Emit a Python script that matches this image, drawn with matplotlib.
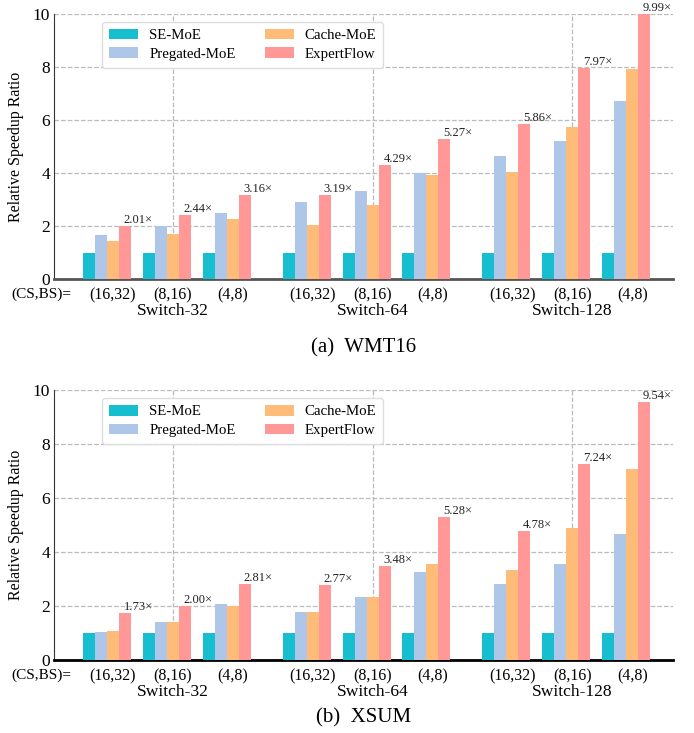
import matplotlib
matplotlib.use("Agg")
import matplotlib.pyplot as plt
import numpy as np

plt.rcParams['font.family'] = ['Liberation Serif', 'DejaVu Serif']

methods = ["SE-MoE", "Pregated-MoE", "Cache-MoE", "ExpertFlow"]
colors = ["#17becf", "#aec7e8", "#ffbb78", "#ff9896"]
models = ["Switch-32", "Switch-64", "Switch-128"]
configs = ["(16,32)", "(8,16)", "(4,8)"]

# WMT16 values, order: Switch-32 x3 configs, Switch-64 x3, Switch-128 x3
wmt_se = [1, 1, 1, 1, 1, 1, 1, 1, 1]
wmt_pregated = [1.67, 2.01, 2.50, 2.92, 3.33, 4.00, 4.66, 5.22, 6.70]
wmt_cache = [1.46, 1.71, 2.28, 2.05, 2.80, 3.94, 4.05, 5.72, 7.91]
wmt_ef = [2.01, 2.44, 3.16, 3.19, 4.29, 5.27, 5.86, 7.97, 9.99]

xsum_se = [1, 1, 1, 1, 1, 1, 1, 1, 1]
xsum_pregated = [1.04, 1.41, 2.07, 1.78, 2.33, 3.26, 2.81, 3.56, 4.67]
xsum_cache = [1.07, 1.41, 2.00, 1.78, 2.33, 3.56, 3.33, 4.89, 7.07]
xsum_ef = [1.73, 2.00, 2.81, 2.77, 3.48, 5.28, 4.78, 7.24, 9.54]

datasets = [
    ("(a)  WMT16", [wmt_se, wmt_pregated, wmt_cache, wmt_ef], "#555555", 348),
    ("(b)  XSUM", [xsum_se, xsum_pregated, xsum_cache, xsum_ef], "black", 718),
]

w = 0.2
centers = np.array([0, 1, 2, 3.333, 4.333, 5.333, 6.667, 7.667, 8.667])

W, H = 694, 733
fig = plt.figure(figsize=(W / 100, H / 100), dpi=100)
axes_rects = [
    [0.078, 0.619, 0.892, 0.362],
    [0.078, 0.0996, 0.892, 0.3684],
]

for (title, series, bcolor, ty), rect in zip(datasets, axes_rects):
    ax = fig.add_axes(rect)
    for i, (vals, c, lab) in enumerate(zip(series, colors, methods)):
        xs = centers + (i - 1.5) * w
        ax.bar(xs, vals, width=w, color=c, label=lab, zorder=3)
        if i == 3:
            for x, v in zip(xs, vals):
                ax.text(x - 0.02, v, f"{v:.2f}\u00d7", ha='left', va='bottom',
                        fontsize=9, color='#222222', zorder=4)
    ax.set_xlim(-0.88, 9.45)
    ax.set_ylim(0, 10)
    ax.set_yticks([0, 2, 4, 6, 8, 10])
    ax.tick_params(axis='y', length=0, labelsize=12.5, pad=3)
    major = [centers[1] + 0.5 * w, centers[4] + 0.5 * w, centers[7] + 0.5 * w]
    ax.set_xticks(major)
    ax.set_xticklabels([])
    ax.tick_params(axis='x', length=0)
    ax.grid(True, linestyle='--', color='#bbbbbb', linewidth=0.9, zorder=0)
    ax.set_axisbelow(True)
    for s in ['top', 'right']:
        ax.spines[s].set_visible(False)
    ax.spines['left'].set_color('#333333')
    ax.spines['bottom'].set_color(bcolor)
    ax.spines['bottom'].set_linewidth(2)
    ax.set_ylabel("Relative Speedup Ratio", fontsize=11.5, labelpad=6)
    trans = ax.get_xaxis_transform()
    for k, c in enumerate(centers):
        ax.text(c + 0.5 * w, -0.032, configs[k % 3], transform=trans,
                ha='center', va='top', fontsize=11.5)
    for m, mc in enumerate(models):
        ax.text(centers[3 * m + 1] + 0.5 * w, -0.088, mc, transform=trans,
                ha='center', va='top', fontsize=12.6)
    ax.text(-0.59, -0.032, "(CS,BS)=", transform=trans, ha='right',
            va='top', fontsize=11)
    fig.text(rect[0] + rect[2] / 2, 1 - ty / H, title,
             ha='center', va='center', fontsize=15)
    ax.legend(ncol=2, loc='upper left', bbox_to_anchor=(0.078, 0.97),
              fontsize=10.7, frameon=True, framealpha=1, edgecolor='#dddddd',
              handlelength=1.95, handleheight=0.75, handletextpad=0.75,
              columnspacing=1.95, borderpad=0.45, labelspacing=0.35,
              borderaxespad=0)

fig.savefig("out.png", dpi=100)
